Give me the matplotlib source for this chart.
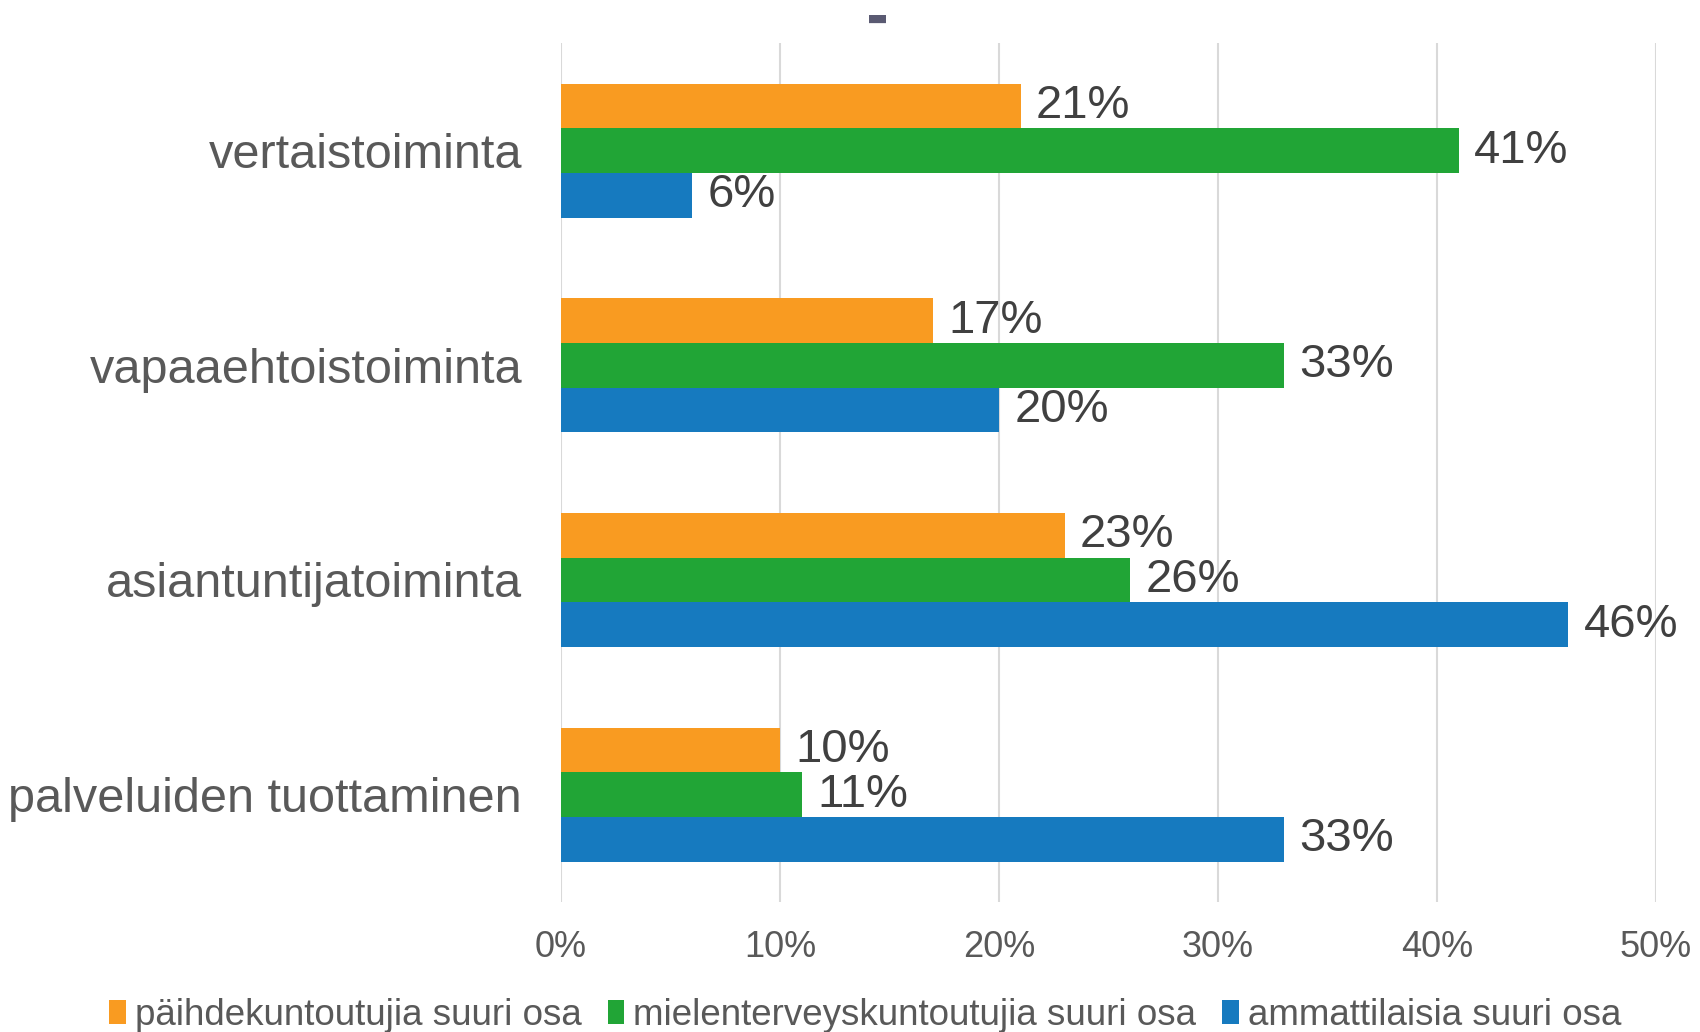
import matplotlib.pyplot as plt
import numpy as np

# data
kategoriat = ['vertaistoiminta', 'vapaaehtoistoiminta', 'asiantuntijatoiminta', 'palveluiden tuottaminen']
sarjat = ['päihdekuntoutujia suuri osa', 'mielenterveyskuntoutujia suuri osa', 'ammattilaisia suuri osa']
paihde = [21, 17, 23, 10]
mielenterveys = [41, 33, 26, 11]
ammattilaiset = [6, 20, 46, 33]
x_ticks = [0, 10, 20, 30, 40, 50]

varit = ['#F99B21', '#21A536', '#167ABF']

plt.rcParams['font.family'] = ['Liberation Sans', 'DejaVu Sans']

fig = plt.figure(figsize=(17, 10.32), dpi=100)
ax = fig.add_axes([0.33, 0.126, 0.644, 0.832])

y = np.arange(len(kategoriat))
h = 0.208
for i, (arvot, nimi, vari) in enumerate(zip([paihde, mielenterveys, ammattilaiset], sarjat, varit)):
    palkit = ax.barh(y + (i - 1) * h, arvot, height=h, color=vari, label=nimi)
    ax.bar_label(palkit, labels=[f'{v}%' for v in arvot], padding=11,
                 fontsize=34, color='#404040')

ax.set_ylim(len(kategoriat) - 0.5, -0.5)
ax.set_xlim(0, 50)
ax.set_yticks(y)
ax.set_yticklabels(kategoriat, fontsize=35, color='#595959')
ax.set_xticks(x_ticks)
ax.set_xticklabels([f'{t}%' for t in x_ticks], fontsize=26, color='#595959')
ax.tick_params(axis='both', length=0)
ax.tick_params(axis='y', pad=28)
ax.tick_params(axis='x', pad=20)
ax.xaxis.grid(True, color='#d9d9d9', linewidth=1.5)
ax.set_axisbelow(True)
for s in ax.spines.values():
    s.set_visible(False)

# the small dark mark at the top of the chart
fig.text(0.516, 0.982, '\u25ac', fontsize=16, color='#5a5a72',
         family='DejaVu Sans', ha='center', va='center')

fig.legend(loc='center', bbox_to_anchor=(0.509, 0.016), ncol=3, frameon=False,
           fontsize=26.5, labelcolor='#595959', handlelength=0.45, handleheight=0.6,
           handletextpad=0.25, columnspacing=0.7)

plt.savefig('out.png')
